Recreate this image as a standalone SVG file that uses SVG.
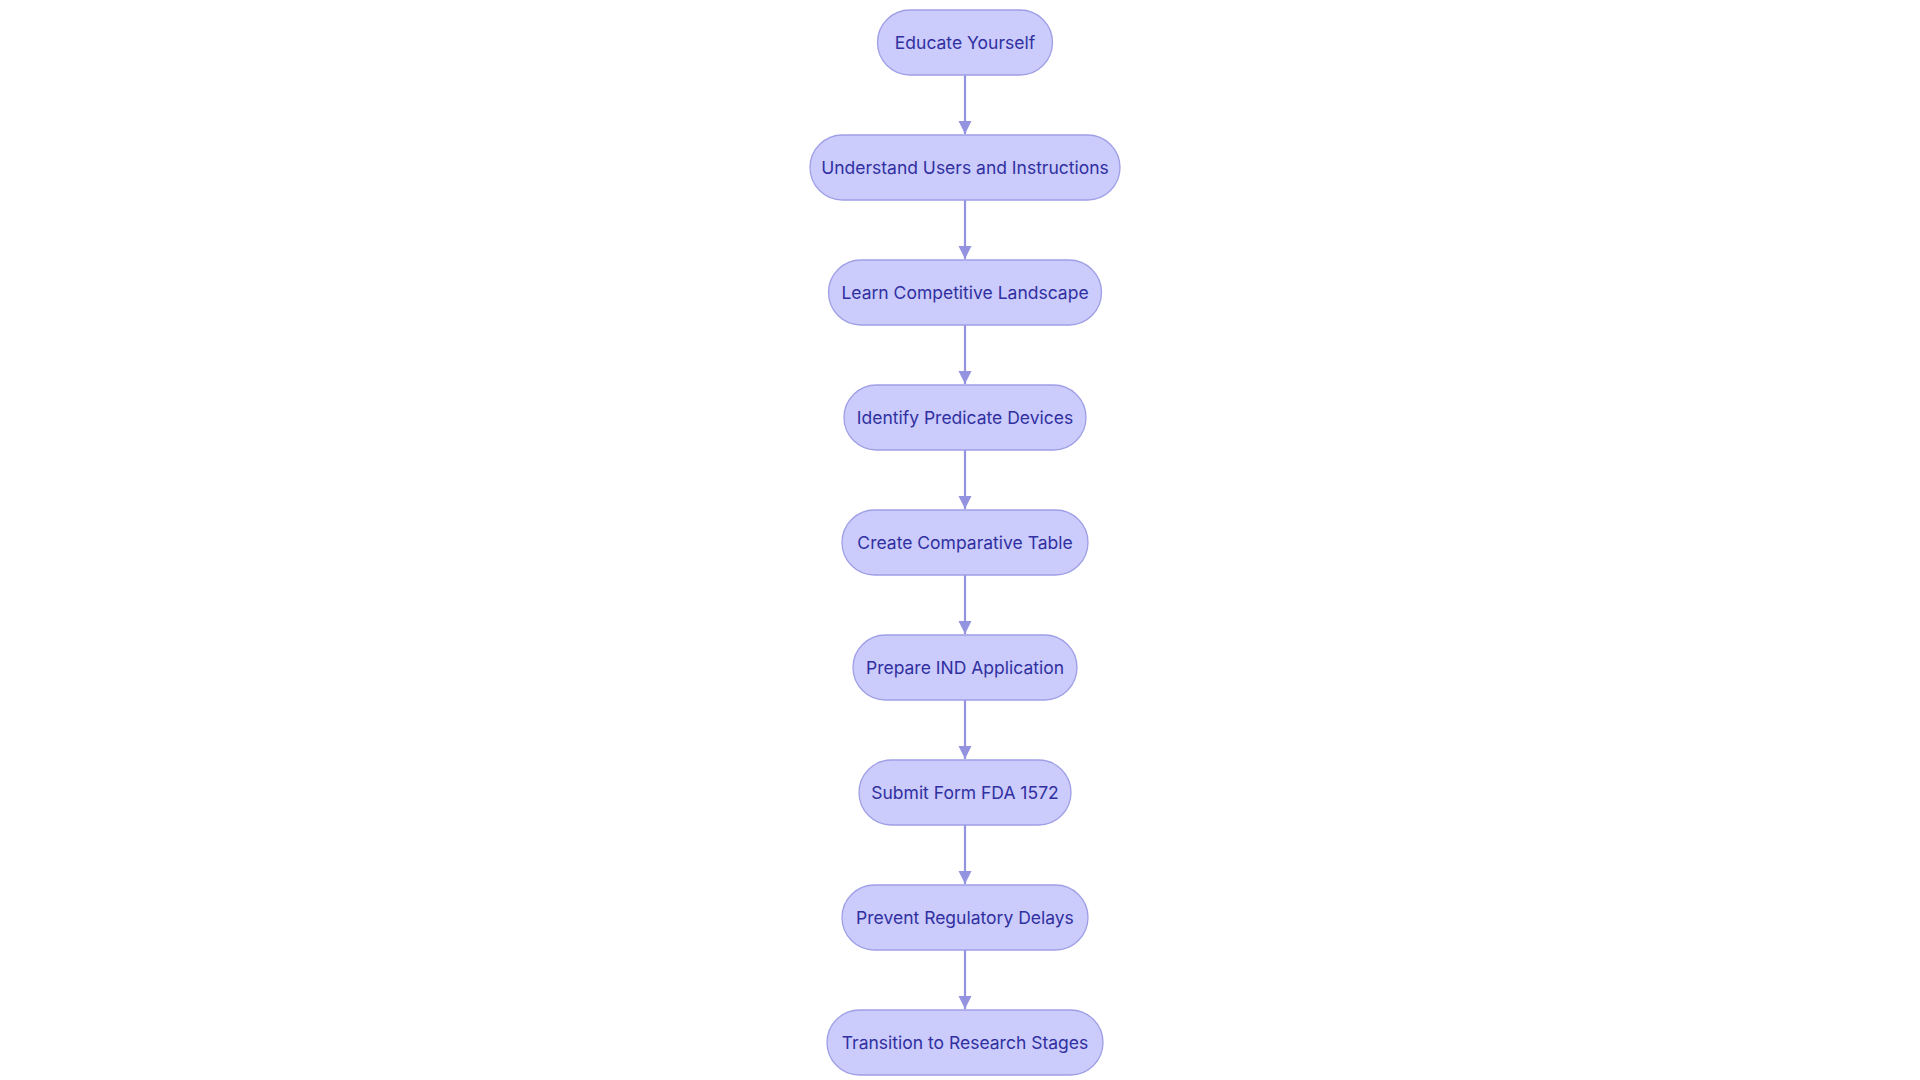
<svg xmlns="http://www.w3.org/2000/svg" width="1920" height="1080" viewBox="0 0 1920 1080">
<style>
.n rect{fill:#cbcbfc;stroke:#9f9fe6;stroke-width:1.3}
.n text{font-family:Inter,"Noto Sans",sans-serif;font-size:17.5px;fill:#3030a0;text-anchor:middle;dominant-baseline:central}
.e line{stroke:#9393e0;stroke-width:2.2;marker-end:url(#a)}
</style>
<defs><marker id="a" viewBox="0 0 10 10" refX="10" refY="5" markerWidth="6" markerHeight="6" orient="auto" markerUnits="strokeWidth"><path d="M0,0L10,5L0,10z" fill="#9393e0"/></marker></defs>
<rect width="1920" height="1080" fill="#fff"/>
<g id="edges" class="e">
<line x1="965" y1="75" x2="965" y2="134"/>
<line x1="965" y1="200" x2="965" y2="259"/>
<line x1="965" y1="325" x2="965" y2="384"/>
<line x1="965" y1="450" x2="965" y2="509"/>
<line x1="965" y1="575" x2="965" y2="634"/>
<line x1="965" y1="700" x2="965" y2="759"/>
<line x1="965" y1="825" x2="965" y2="884"/>
<line x1="965" y1="950" x2="965" y2="1009"/>
</g>
<g id="n1" class="n"><rect x="877.5" y="10" width="175" height="65" rx="32.5"/><text x="965" y="42.5">Educate Yourself</text></g>
<g id="n2" class="n"><rect x="810" y="135" width="310" height="65" rx="32.5"/><text x="965" y="167.5">Understand Users and Instructions</text></g>
<g id="n3" class="n"><rect x="828.5" y="260" width="273" height="65" rx="32.5"/><text x="965" y="292.5">Learn Competitive Landscape</text></g>
<g id="n4" class="n"><rect x="844" y="385" width="242" height="65" rx="32.5"/><text x="965" y="417.5">Identify Predicate Devices</text></g>
<g id="n5" class="n"><rect x="842" y="510" width="246" height="65" rx="32.5"/><text x="965" y="542.5">Create Comparative Table</text></g>
<g id="n6" class="n"><rect x="853" y="635" width="224" height="65" rx="32.5"/><text x="965" y="667.5">Prepare IND Application</text></g>
<g id="n7" class="n"><rect x="859" y="760" width="212" height="65" rx="32.5"/><text x="965" y="792.5">Submit Form FDA 1572</text></g>
<g id="n8" class="n"><rect x="842" y="885" width="246" height="65" rx="32.5"/><text x="965" y="917.5">Prevent Regulatory Delays</text></g>
<g id="n9" class="n"><rect x="827" y="1010" width="276" height="65" rx="32.5"/><text x="965" y="1042.5">Transition to Research Stages</text></g>
</svg>
